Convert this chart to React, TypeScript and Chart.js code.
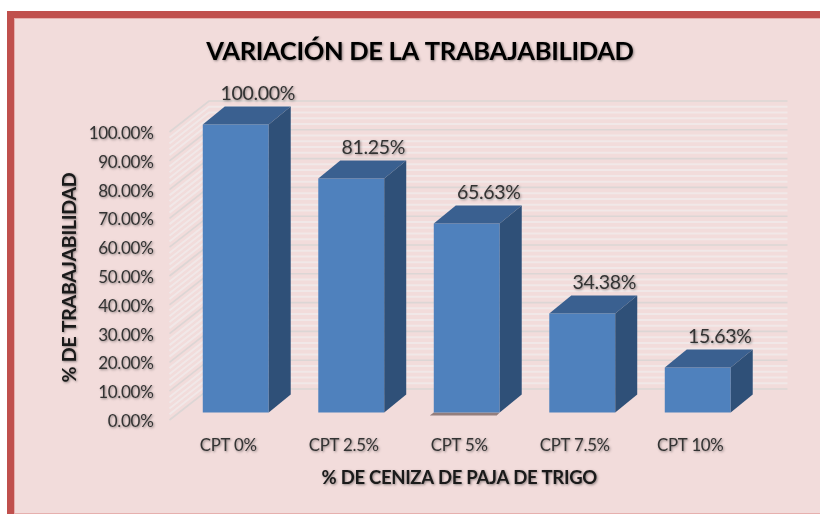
import React, { useEffect, useRef } from "react";
import { Chart, registerables } from "chart.js";

Chart.register(...registerables);

const categories = ["CPT 0%", "CPT 2.5%", "CPT 5%", "CPT 7.5%", "CPT 10%"];
const workability = [100, 81.25, 65.63, 34.38, 15.63];
const chartTitle = "VARIACIÓN DE LA TRABAJABILIDAD";
const yAxisTitle = "% DE TRABAJABILIDAD";
const xAxisTitle = "% DE CENIZA DE PAJA DE TRIGO";

const W = 820;
const H = 515;
const FONT = "Lato, 'Open Sans', sans-serif";
const wall = { dx: 39.5, dy: 31 };
const bar3d = { dx: 22, dy: 18, shiftX: 7.5, shiftY: 7.5 };
const label3d = { dx: 22, dy: 30.5 };
const shadowedBar = 2;
const textNudge = 1.5;

const setShadow = (ctx: CanvasRenderingContext2D, on: boolean) => {
  ctx.shadowColor = on ? "rgba(0,0,0,0.42)" : "transparent";
  ctx.shadowBlur = on ? 2.5 : 0;
  ctx.shadowOffsetX = on ? 1 : 0;
  ctx.shadowOffsetY = on ? 1 : 0;
};

const boxPlugin = {
  id: "box3d",
  afterLayout(chart: any) {
    // the title is centred over the whole panel rather than the padded box
    chart.titleBlock.right += 71;
  },
  beforeDraw(chart: any) {
    const { ctx } = chart;
    ctx.save();
    ctx.fillStyle = "#ffffff";
    ctx.fillRect(0, 0, W, H);
    ctx.fillStyle = "#C0504D";
    ctx.fillRect(7, 11, W - 7, H - 12);
    ctx.fillStyle = "#E6B0AE";
    ctx.fillRect(14, 18, W - 14, H - 19);
    ctx.fillStyle = "#F2DCDB";
    ctx.fillRect(15, 19, W - 15, H - 21);
    ctx.restore();
    ctx.letterSpacing = "-0.3px";
    setShadow(ctx, true);
    ctx.translate(0, textNudge);
  },
  beforeDatasetsDraw(chart: any) {
    const { ctx, chartArea: a, scales } = chart;
    ctx.translate(0, -textNudge);
    setShadow(ctx, false);
    const y = scales.y;
    ctx.save();
    for (let v = 0; v <= 100; v += 2) {
      const major = v % 10 === 0;
      const p = y.getPixelForValue(v);
      ctx.beginPath();
      ctx.moveTo(a.left - 1, p);
      ctx.lineTo(a.left - 1 + wall.dx, p - wall.dy);
      ctx.lineTo(a.right + wall.dx, p - wall.dy);
      ctx.lineWidth = major ? 1.6 : 2;
      ctx.strokeStyle = major ? "#DCD6D5" : "#F1E8E8";
      ctx.stroke();
    }
    ctx.restore();
    ctx.save();
    ctx.translate(bar3d.shiftX, -bar3d.shiftY);
    const el = chart.getDatasetMeta(0).data[shadowedBar];
    ctx.fillStyle = "rgba(95,75,75,0.65)";
    ctx.beginPath();
    ctx.moveTo(el.x - el.width / 2, el.base);
    ctx.lineTo(el.x + el.width / 2, el.base);
    ctx.lineTo(el.x + el.width / 2 - 3, el.base + 3);
    ctx.lineTo(el.x - el.width / 2 - 4, el.base + 3);
    ctx.closePath();
    ctx.fill();
  },
  afterDatasetsDraw(chart: any) {
    const { ctx } = chart;
    const meta = chart.getDatasetMeta(0);
    meta.data.forEach((el: any) => {
      const l = el.x - el.width / 2;
      const r = el.x + el.width / 2;
      const t = el.y;
      const b = el.base;
      const { dx, dy } = bar3d;
      ctx.fillStyle = "#3A6090";
      ctx.beginPath();
      ctx.moveTo(l, t);
      ctx.lineTo(l + dx, t - dy);
      ctx.lineTo(r + dx, t - dy);
      ctx.lineTo(r, t);
      ctx.closePath();
      ctx.fill();
      ctx.fillStyle = "#2F5078";
      ctx.beginPath();
      ctx.moveTo(r, t);
      ctx.lineTo(r + dx, t - dy);
      ctx.lineTo(r + dx, b - dy);
      ctx.lineTo(r, b);
      ctx.closePath();
      ctx.fill();
    });
    setShadow(ctx, true);
    ctx.fillStyle = "#333333";
    ctx.font = `19.5px ${FONT}`;
    ctx.textAlign = "center";
    ctx.textBaseline = "middle";
    meta.data.forEach((el: any, i: number) => {
      ctx.fillText(workability[i].toFixed(2) + "%", el.x + label3d.dx, el.y - label3d.dy);
    });
    ctx.restore();
    setShadow(ctx, true);
  },
};

export default function App() {
  const ref = useRef<HTMLCanvasElement>(null);
  useEffect(() => {
    const chart = new Chart(ref.current!, {
      type: "bar",
      data: {
        labels: categories,
        datasets: [
          {
            data: workability,
            backgroundColor: "#4F81BD",
            barPercentage: 0.571,
            categoryPercentage: 1,
            clip: false,
          } as any,
        ],
      },
      options: {
        responsive: false,
        animation: false,
        layout: { padding: { left: 21, right: 72, top: 0, bottom: 0 } },
        plugins: {
          legend: { display: false },
          tooltip: { enabled: false },
          title: {
            display: true,
            text: chartTitle,
            color: "#000000",
            font: { family: FONT, size: 25.5, weight: "bold" },
            padding: { top: 34.9, bottom: 66.5 },
          },
        },
        scales: {
          x: {
            grid: { display: false, drawTicks: false },
            border: { display: false },
            ticks: {
              color: "#333333",
              font: { family: FONT, size: 16.8 },
              padding: 14,
              maxRotation: 0,
              autoSkip: false,
            },
            title: {
              display: true,
              text: xAxisTitle,
              color: "#1a1a1a",
              font: { family: FONT, size: 18.5, weight: "bold" },
              padding: { top: 0, bottom: 27.5 },
            },
            afterFit: (s: any) => {
              s.height = 95;
            },
          },
          y: {
            min: 0,
            max: 100,
            grid: { display: false, drawTicks: false },
            border: { display: false },
            ticks: {
              stepSize: 10,
              color: "#333333",
              font: { family: FONT, size: 17 },
              padding: 17,
              callback: (v: any) => Number(v).toFixed(2) + "%",
            },
            title: {
              display: true,
              text: yAxisTitle,
              color: "#1a1a1a",
              font: { family: FONT, size: 19.6, weight: "bold" },
              padding: { top: 37, bottom: 0 },
            },
            afterFit: (s: any) => {
              s.width = 149.5;
            },
          },
        },
      },
      plugins: [boxPlugin],
    } as any);
    return () => chart.destroy();
  }, []);
  return (
    <div style={{ position: "fixed", left: 0, top: 0, width: W, height: H }}>
      <canvas ref={ref} width={W} height={H} style={{ display: "block", filter: "blur(0.5px)" }} />
    </div>
  );
}
